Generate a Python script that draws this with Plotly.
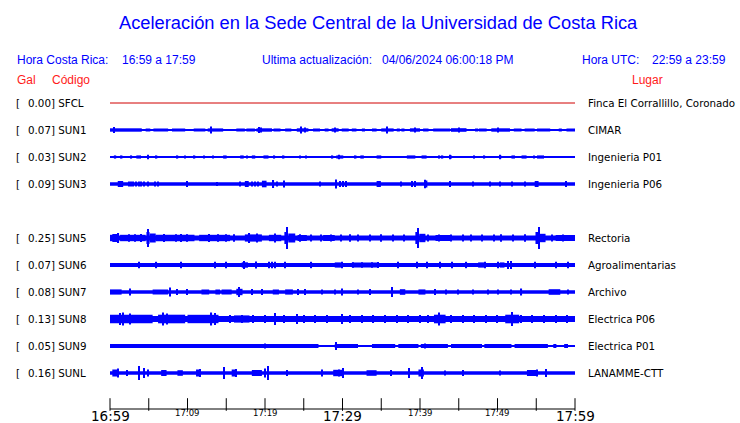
import plotly.graph_objects as go

# ---------------- data ----------------
CODES = ["SFCL", "SUN1", "SUN2", "SUN3", "SUN5", "SUN6", "SUN7", "SUN8", "SUN9", "SUNL"]
ROWS = [0, 1, 2, 3, 5, 6, 7, 8, 9, 10]
GAL = [0.00, 0.07, 0.03, 0.09, 0.25, 0.07, 0.08, 0.13, 0.05, 0.16]
PLACES = ["Finca El Corrallillo, Coronado", "CIMAR", "Ingenieria P01", "Ingenieria P06",
          "Rectoria", "Agroalimentarias", "Archivo", "Electrica P06", "Electrica P01",
          "LANAMME-CTT"]
# base noise half-amplitude of every trace (px)
CORE = [0, 0.6, 0.6, 1.7, 2.4, 2.1, 1.7, 2.9, 0.7, 1.7]

# bursts: [start minute, duration minutes, half amplitude px]
BURST_SFCL = []
BURST_SUN1 = [[0, 4.1, 1.7], [4.6, 0.6, 1.5], [5.6, 1.9, 1.5], [8, 1.7, 1.5], [10.8, 1.5, 1.5],
              [12.6, 2.0, 1.6], [16.3, 1.1, 1.5], [17.6, 1.1, 1.5], [18.9, 2.0, 1.7], [21.1, 0.9, 1.5],
              [22.6, 0.8, 1.5], [24.1, 1.5, 1.7], [26.2, 0.9, 1.5], [27.7, 0.5, 1.5], [28.6, 0.9, 1.7],
              [29.9, 0.9, 1.5], [31.2, 0.6, 1.5], [32.5, 0.4, 1.5], [33.8, 0.6, 1.5], [35, 1.6, 1.6],
              [37, 0.4, 1.5], [37.6, 0.4, 1.5], [38.7, 1.3, 1.7], [40.4, 0.7, 1.5], [41.7, 2.2, 1.5],
              [44, 2, 1.8], [47.1, 0.4, 1.5], [47.6, 1.0, 1.5], [49.2, 2.4, 1.7], [52.1, 1.0, 1.5],
              [53.5, 1.3, 1.5], [55.1, 1.7, 1.5], [57.9, 0.4, 1.5], [58.9, 1.1, 1.5]]
BURST_SUN2 = [[0.5, 0.3, 1.6], [1.3, 0.3, 1.6], [2.6, 0.25, 1.6], [3.4, 0.6, 1.6], [4.8, 0.2, 1.6],
              [5.9, 0.2, 1.6], [8.6, 0.2, 1.6], [9.6, 0.2, 1.6], [10.8, 0.2, 1.6], [12, 0.2, 1.6],
              [13.2, 0.2, 1.6], [14.6, 0.45, 1.6], [16.8, 0.45, 1.6], [17.6, 0.2, 1.6], [18.3, 0.45, 1.6],
              [19.8, 0.65, 1.6], [21.1, 0.2, 1.6], [22.2, 0.3, 1.6], [24.4, 0.2, 1.6], [25.2, 0.2, 1.6],
              [28.6, 0.2, 1.6], [29.2, 0.9, 1.6], [31.6, 0.2, 1.6], [32.3, 0.45, 1.6], [34.4, 0.6, 1.6],
              [38.3, 1.1, 1.6], [40.2, 0.65, 1.6], [42.4, 0.2, 1.6], [42.8, 0.2, 1.6], [43.9, 0.2, 1.6],
              [46.9, 0.2, 1.6], [48.2, 0.2, 1.6], [50.3, 0.2, 1.6], [51.8, 0.45, 1.6], [53.1, 0.65, 1.6],
              [54.6, 0.2, 1.6], [55.1, 0.9, 1.6]]
BURST_SUN3 = [[1.0, 0.7, 3], [17.4, 0.5, 3], [19.6, 0.6, 3.3], [34.4, 0.55, 3], [40.6, 0.35, 3.5],
              [54.8, 0.5, 3]]
BURST_SUN5 = [[0, 0.4, 3.2], [0.3, 0.8, 4], [1.3, 3.3, 3.2], [4.7, 0.4, 6], [5.1, 0.8, 4.5],
              [5.9, 5, 3.3], [11.5, 4, 3.2], [17.4, 2.2, 3.6], [20.5, 1.6, 3.2], [22.5, 0.4, 6],
              [23.0, 0.9, 4.5], [24.2, 1.2, 3], [27.5, 1.5, 3], [39.4, 0.4, 6], [39.9, 0.8, 4.2],
              [42, 2, 3], [54.9, 0.4, 6], [55.4, 0.8, 4.2], [57.5, 2.5, 3]]
BURST_SUN6 = [[17, 0.8, 2.7], [29, 0.8, 2.6], [31.2, 3.5, 2.5], [47.5, 1, 2.6], [50.3, 0.6, 2.6]]
BURST_SUN7 = [[0, 1.5, 2.6], [5.5, 2, 2.5], [11.8, 1, 2.5], [13.6, 0.6, 2.5], [14.4, 1.3, 2.5],
              [16.3, 0.8, 3.2], [21, 0.8, 2.5], [22.6, 1, 2.6], [37.4, 0.7, 2.8], [39.8, 0.9, 2.6],
              [56.6, 1.5, 2.8]]
BURST_SUN8 = [[0, 5.5, 4.3], [6.2, 3.5, 4.3], [10, 4, 4.2], [16, 2, 3.6], [41.8, 1.5, 4.3],
              [51, 1.8, 4.3]]
BURST_SUN9 = [[0, 26.9, 2.0], [29, 3, 2.0], [33.8, 3.0, 2.0], [37.2, 2.6, 2.0], [40.1, 3.5, 2.0],
              [44, 4, 2.0], [48.3, 3.5, 2.0], [52.2, 4.3, 2.0], [57.2, 0.4, 2.0], [58.6, 0.5, 2.0]]
BURST_SUNL = [[0.3, 0.8, 3.5], [6.6, 0.7, 3], [8.7, 0.7, 2.8], [11.1, 0.6, 3.5], [15.7, 0.5, 3.5],
              [18.3, 1.3, 3], [28.8, 1.3, 3.2], [33.1, 1.3, 2.8], [39.8, 0.7, 3.5], [53.8, 1.2, 3]]

# spikes: [minute, half amplitude px]
SPIKE_SFCL = []
SPIKE_SUN1 = [[0.55, 3], [13, 3.5], [19.2, 3], [19.5, 2.5], [24.7, 3.5], [25.2, 2.5], [29, 2.5],
              [35.8, 3.5], [39.4, 2.5], [45, 2.5], [50.1, 2.5]]
SPIKE_SUN2 = [[4.9, 2.3], [29.5, 2.3], [43.9, 2.3], [50.3, 2.3]]
SPIKE_SUN3 = [[2.4, 2.5], [2.7, 2.5], [3.0, 2.5], [3.3, 2.5], [3.7, 2.5], [4.0, 2.5], [4.4, 2.5],
              [4.9, 2.5], [5.8, 2.5], [6.2, 2.5], [9.9, 3], [13.8, 2], [16.8, 2.5], [18.3, 2.5],
              [18.7, 2.5], [19.1, 2.5], [21.1, 4], [21.5, 2.5], [22.4, 3.5], [27.1, 2.5], [29.2, 4.5],
              [29.7, 3], [30.1, 3], [30.5, 3], [37.6, 2.5], [39, 3], [39.4, 3], [40.7, 4.2], [43.9, 3],
              [46.9, 2.5], [49, 2.5], [50.3, 2.5], [51.9, 2.5], [53.6, 2.5], [58.9, 3]]
SPIKE_SUN5 = [[1.1, 5], [4.95, 9], [18, 5], [19, 4.5], [21.3, 4.5], [22.9, 11], [39.8, 10],
              [55.3, 11], [2.5, 3.8], [3.2, 3.8], [4, 4], [7, 4], [8.5, 3.8], [9.2, 4], [10, 3.8],
              [12.8, 4], [14, 3.8], [15, 3.8], [16, 3.8], [24.5, 3.8], [26, 3.5], [27.2, 3.5],
              [28.5, 3.5], [29.8, 3.5], [31, 3.8], [32, 3.5], [33.5, 3.5], [35, 3.8], [36.5, 3.5],
              [38, 3.5], [41, 3.5], [42.5, 3.5], [44, 3.5], [45.5, 3.5], [46.6, 3.5], [48, 3.5],
              [49.5, 3.5], [50.5, 3.8], [52, 3.5], [53.5, 3.8], [57, 3.5], [58.5, 3.5]]
SPIKE_SUN6 = [[3.7, 3.3], [6, 3.2], [9.2, 3.2], [13.5, 3.2], [15, 3.3], [17.3, 4], [18.9, 3.5],
              [20.5, 3.2], [20.9, 3.2], [21.3, 3.2], [22.6, 3.2], [26, 3.2], [29.9, 3.2], [31.4, 2.8],
              [32.5, 2.8], [33.8, 2.8], [34.6, 3], [37.2, 3.2], [39.6, 3.2], [40.9, 3.3], [42.6, 3.3],
              [44.1, 3.2], [46, 3.2], [48.4, 3.2], [50.1, 3.3], [51.4, 4], [51.7, 4], [54.8, 3.2],
              [57.6, 3.2], [59.1, 3.2]]
SPIKE_SUN7 = [[2.6, 3.5], [7.7, 4.5], [8.6, 3], [9.9, 3], [16.6, 5], [18.3, 3], [19.6, 3],
              [24.3, 3], [25.2, 3], [27.3, 2.5], [29, 2.5], [29.9, 3.5], [32, 2.5], [33.5, 3],
              [36.4, 5], [41.9, 3], [43.4, 2.5], [44.9, 2.5], [46.9, 2.5], [48.8, 2.5], [50.1, 2.5],
              [51.8, 2.5], [53.1, 3.5], [59.1, 2.5]]
SPIKE_SUN8 = [[1.3, 6], [1.7, 6.5], [2.6, 5.5], [6.9, 6.5], [7.3, 5.5], [13.1, 6.5], [13.5, 6],
              [21.3, 6], [24.1, 5], [29.9, 5], [42.4, 6.5], [51.9, 7], [15.5, 4], [17, 4], [18.5, 4],
              [20, 4], [22.5, 4], [25, 4], [26.5, 4], [28, 4], [31, 4], [32.5, 4], [34, 4], [35.5, 4],
              [37, 4], [38.5, 4], [40, 4], [41, 4], [44, 4], [45.5, 4], [47, 4], [48.5, 4], [50, 4],
              [53, 4], [54.5, 4], [56, 4], [57.5, 4], [59, 4]]
SPIKE_SUN9 = [[20, 2.5], [22, 2], [29.2, 4], [35, 2], [40.6, 2.5]]
SPIKE_SUNL = [[1, 4.5], [2.2, 3], [3.7, 7], [4.4, 5], [4.9, 3.5], [11.6, 4], [14.7, 6], [16.3, 4],
              [20, 4.5], [20.4, 7], [22.8, 3], [27.3, 3.5], [29.6, 3.5], [30.1, 5], [36.3, 3],
              [38.6, 5], [40.3, 6], [43.2, 2.5], [45.6, 3], [50.3, 2.5], [55.1, 3.5], [56.3, 4]]

BURSTS = [BURST_SFCL, BURST_SUN1, BURST_SUN2, BURST_SUN3, BURST_SUN5, BURST_SUN6,
          BURST_SUN7, BURST_SUN8, BURST_SUN9, BURST_SUNL]
SPIKES = [SPIKE_SFCL, SPIKE_SUN1, SPIKE_SUN2, SPIKE_SUN3, SPIKE_SUN5, SPIKE_SUN6,
          SPIKE_SUN7, SPIKE_SUN8, SPIKE_SUN9, SPIKE_SUNL]

T_START, T_END = 0, 60          # minutes after 16:59
TICK_MIN = list(range(0, 61, 5))
LABEL_MIN = [0, 10, 20, 30, 40, 50, 60]
LABEL_TXT = ["16:59", "17:09", "17:19", "17:29", "17:39", "17:49", "17:59"]
MAJOR = [True, False, False, True, False, False, True]

# ---------------- styling / layout ----------------
W, H = 740, 423
PX_PER_MIN = 7.75                # 60 minutes across 465 px
EDGE = 10                        # extra px of plot area on each side of the time range
L, R, T, B = 110 - EDGE, 165 - EDGE, 90, 10
PAD = EDGE / PX_PER_MIN
ROW_STEP = 27
PLOT_H = H - T - B
PLOT_W = W - L - R
Y_TOP = 13                       # row 0 sits 13 px below the plot top
Y_RANGE = [Y_TOP - PLOT_H, Y_TOP]
AXIS_Y = -306                    # time-axis baseline (px below row 0)
TICK_LEN = 9
SPIKE_W = 0.14
BLUE = "#0000ff"
RED_LINE = "#d00000"
DV = "DejaVu Sans"
ARIAL = "Liberation Sans, Arial"


def px_x(x):
    return (x - L) / PLOT_W


def px_y(y):
    return (H - B - y) / PLOT_H


fig = go.Figure()

for code, row, core, bursts, spikes in zip(CODES, ROWS, CORE, BURSTS, SPIKES):
    c = -ROW_STEP * row
    color = RED_LINE if code == "SFCL" else BLUE
    # centre line
    fig.add_trace(go.Scatter(x=[T_START, T_END], y=[c, c], mode="lines",
                             line=dict(color=color, width=1), hoverinfo="skip",
                             showlegend=False))
    xs, ws, bs, hs = [], [], [], []
    if core > 0:
        xs.append((T_START + T_END) / 2); ws.append(T_END - T_START)
        bs.append(c - core); hs.append(2 * core)
    for s, d, h in bursts:
        xs.append(s + d / 2); ws.append(d); bs.append(c - h); hs.append(2 * h)
    for t, h in spikes:
        xs.append(t); ws.append(SPIKE_W); bs.append(c - h); hs.append(2 * h)
    if xs:
        fig.add_trace(go.Bar(x=xs, y=hs, base=bs, width=ws, marker=dict(color=color, line_width=0),
                             hoverinfo="skip", showlegend=False))

# time axis: baseline over the hour plus upward tick marks every 5 minutes
fig.add_trace(go.Scatter(x=[T_START, T_END], y=[AXIS_Y, AXIS_Y], mode="lines",
                         line=dict(color="black", width=1), hoverinfo="skip", showlegend=False))
fig.add_trace(go.Scatter(x=TICK_MIN, y=[AXIS_Y + TICK_LEN / 2] * len(TICK_MIN),
                         mode="markers", cliponaxis=False, hoverinfo="skip", showlegend=False,
                         marker=dict(symbol="line-ns", size=TICK_LEN,
                                     line=dict(color="black", width=1))))

ann = []
# title & header
ann.append(dict(text="Aceleración en la Sede Central de la Universidad de Costa Rica",
                x=px_x(378), y=px_y(22), xanchor="center", yanchor="middle",
                font=dict(family=ARIAL, size=18.3, color=BLUE)))
for txt, x0 in [("Hora Costa Rica:", 15), ("16:59 a 17:59", 120),
                ("Ultima actualización:", 260), ("04/06/2024 06:00:18 PM", 380),
                ("Hora UTC:", 580), ("22:59 a 23:59", 650)]:
    ann.append(dict(text=txt, x=px_x(x0), y=px_y(60), xanchor="left", yanchor="middle",
                    font=dict(family=ARIAL, size=12, color=BLUE)))
for txt, x0 in [("Gal", 15), ("Código", 50), ("Lugar", 630)]:
    ann.append(dict(text=txt, x=px_x(x0), y=px_y(80), xanchor="left", yanchor="middle",
                    font=dict(family=ARIAL, size=12, color="#ff1a1a")))

# row labels
for code, row, g, place in zip(CODES, ROWS, GAL, PLACES):
    c = -ROW_STEP * row
    ann.append(dict(text="[", x=px_x(14), y=c, yref="y", xanchor="left", yanchor="middle",
                    font=dict(family=DV, size=10.3, color="black")))
    ann.append(dict(text=f"{g:.2f}] {code}", x=px_x(26), y=c, yref="y", xanchor="left",
                    yanchor="middle", font=dict(family=DV, size=10.3, color="black")))
    ann.append(dict(text=place, x=px_x(586), y=c, yref="y", xanchor="left", yanchor="middle",
                    font=dict(family=DV, size=10.3, color="black")))

# time labels
for m, txt, major in zip(LABEL_MIN, LABEL_TXT, MAJOR):
    ann.append(dict(text=txt, x=m, xref="x", y=px_y(415.5 if major else 412.5),
                    xanchor="center", yanchor="middle", bgcolor="rgba(0,0,0,0)",
                    font=dict(family=DV, size=13.5 if major else 8.5, color="black")))

for a in ann:
    a.setdefault("xref", "paper")
    a.setdefault("yref", "paper")
    a["showarrow"] = False

fig.update_layout(
    width=W, height=H, margin=dict(l=L, r=R, t=T, b=B),
    paper_bgcolor="white", plot_bgcolor="white",
    barmode="overlay", annotations=ann, showlegend=False,
    xaxis=dict(range=[T_START - PAD, T_END + PAD], visible=False, fixedrange=True),
    yaxis=dict(range=Y_RANGE, visible=False, fixedrange=True),
)

fig.write_html("out.html", config={"displayModeBar": False},
               post_script="document.body.style.margin='0';document.body.style.overflow='hidden';")
